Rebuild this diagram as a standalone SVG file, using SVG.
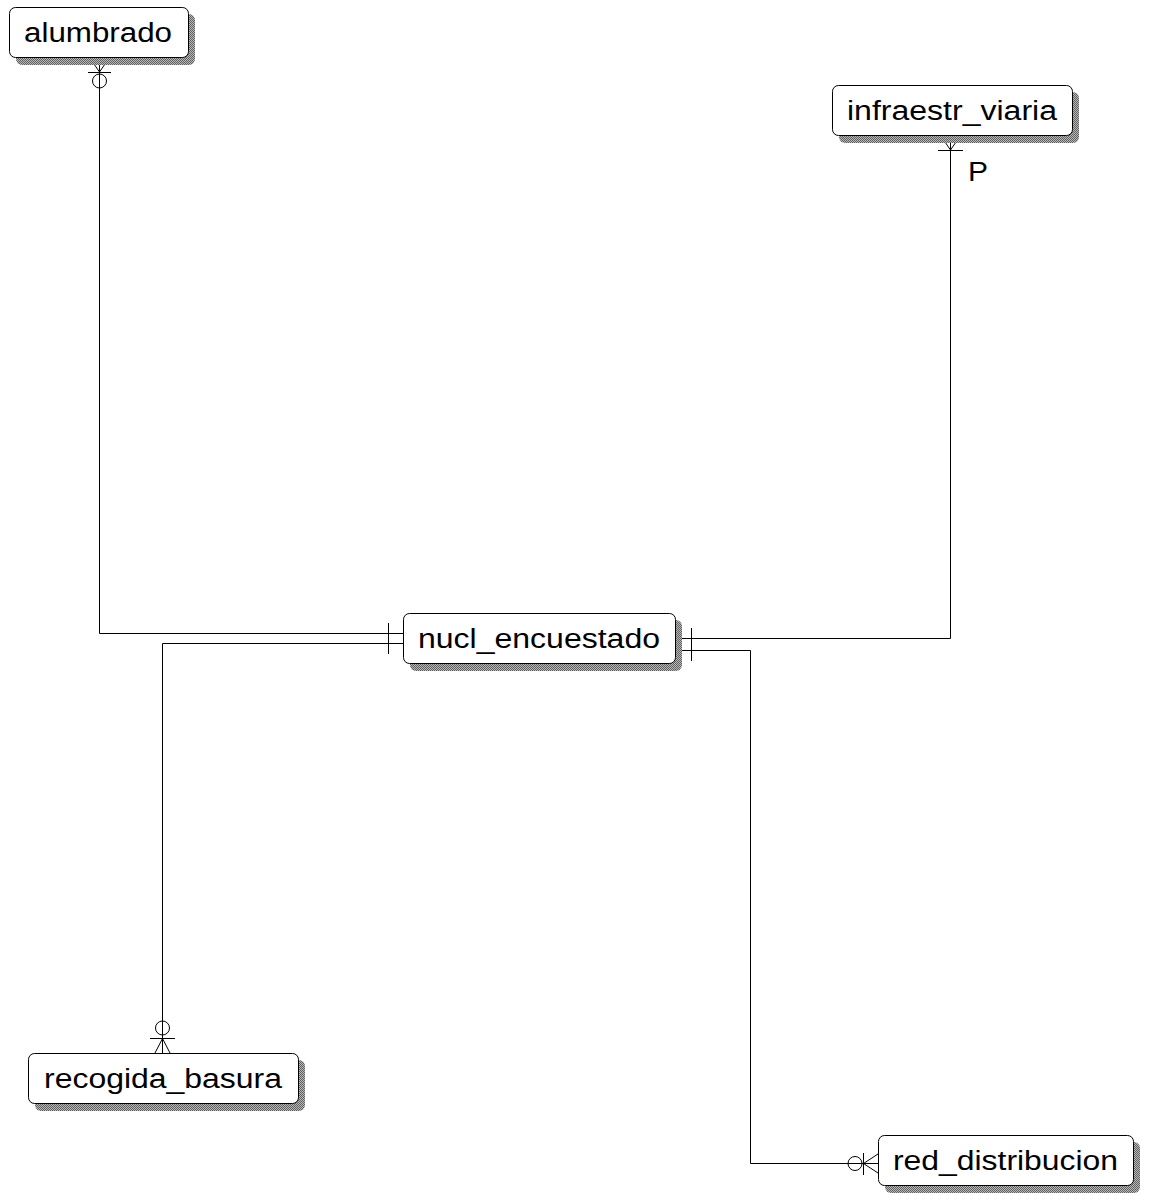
<svg xmlns="http://www.w3.org/2000/svg" width="1153" height="1196" viewBox="0 0 1153 1196">
<defs>
<pattern id="hatch" width="2" height="2" patternUnits="userSpaceOnUse">
<rect width="2" height="2" fill="#b8b8b8"/>
<rect width="1" height="1" fill="#606060"/>
<rect x="1" y="1" width="1" height="1" fill="#606060"/>
</pattern>
<style>
.sh{fill:url(#hatch);stroke:none}
.bx{fill:#fff;stroke:#000;stroke-width:1}
.t{font-family:"Liberation Sans",Arial,sans-serif;font-size:27px;fill:#000}
.c{fill:none;stroke:#000;stroke-width:1}
</style>
</defs>
<rect width="1153" height="1196" fill="#fff"/>
<g id="connectors">
<path class="c" d="M99.5,57 V633.5 H403"/>
<path class="c" d="M94,64 L99.5,72 L105,64"/>
<path class="c" d="M88,72.5 H111"/>
<circle class="c" cx="99.5" cy="81" r="7"/>
<path class="c" d="M388.5,623 V654"/>
<path class="c" d="M403,643.5 H162.5 V1053"/>
<circle class="c" cx="162.5" cy="1028" r="7"/>
<path class="c" d="M150,1038.5 H175"/>
<path class="c" d="M155,1053 L162.5,1038.5 L170,1053"/>
<path class="c" d="M675,638.5 H950.5 V135"/>
<path class="c" d="M945,142 L950.5,150 L956,142"/>
<path class="c" d="M938,150.5 H963"/>
<text class="t" x="968" y="181" textLength="20" lengthAdjust="spacingAndGlyphs">P</text>
<path class="c" d="M675,650.5 H750.5 V1163.5 H878"/>
<path class="c" d="M691.5,628 V661"/>
<circle class="c" cx="855" cy="1163.5" r="7"/>
<path class="c" d="M863.5,1153 V1175"/>
<path class="c" d="M878,1154 L863.5,1163.5 L878,1173"/>
</g>
<g id="alumbrado">
<rect class="sh" x="16" y="14" width="179" height="51" rx="6"/>
<rect class="bx" x="9.5" y="7.5" width="179" height="50" rx="6"/>
<text class="t" x="24" y="42" textLength="148" lengthAdjust="spacingAndGlyphs">alumbrado</text>
</g>
<g id="infraestr_viaria">
<rect class="sh" x="839" y="92" width="240" height="51" rx="6"/>
<rect class="bx" x="832.5" y="85.5" width="240" height="50" rx="6"/>
<text class="t" x="847" y="120" textLength="210" lengthAdjust="spacingAndGlyphs">infraestr_viaria</text>
</g>
<g id="nucl_encuestado">
<rect class="sh" x="410" y="620" width="272" height="51" rx="6"/>
<rect class="bx" x="403.5" y="613.5" width="272" height="50" rx="6"/>
<text class="t" x="418" y="648" textLength="242" lengthAdjust="spacingAndGlyphs">nucl_encuestado</text>
</g>
<g id="recogida_basura">
<rect class="sh" x="35" y="1060" width="270" height="51" rx="6"/>
<rect class="bx" x="28.5" y="1053.5" width="270" height="50" rx="6"/>
<text class="t" x="44" y="1088" textLength="238" lengthAdjust="spacingAndGlyphs">recogida_basura</text>
</g>
<g id="red_distribucion">
<rect class="sh" x="885" y="1142" width="255" height="51" rx="6"/>
<rect class="bx" x="878.5" y="1135.5" width="255" height="50" rx="6"/>
<text class="t" x="893" y="1170" textLength="225" lengthAdjust="spacingAndGlyphs">red_distribucion</text>
</g>
</svg>
